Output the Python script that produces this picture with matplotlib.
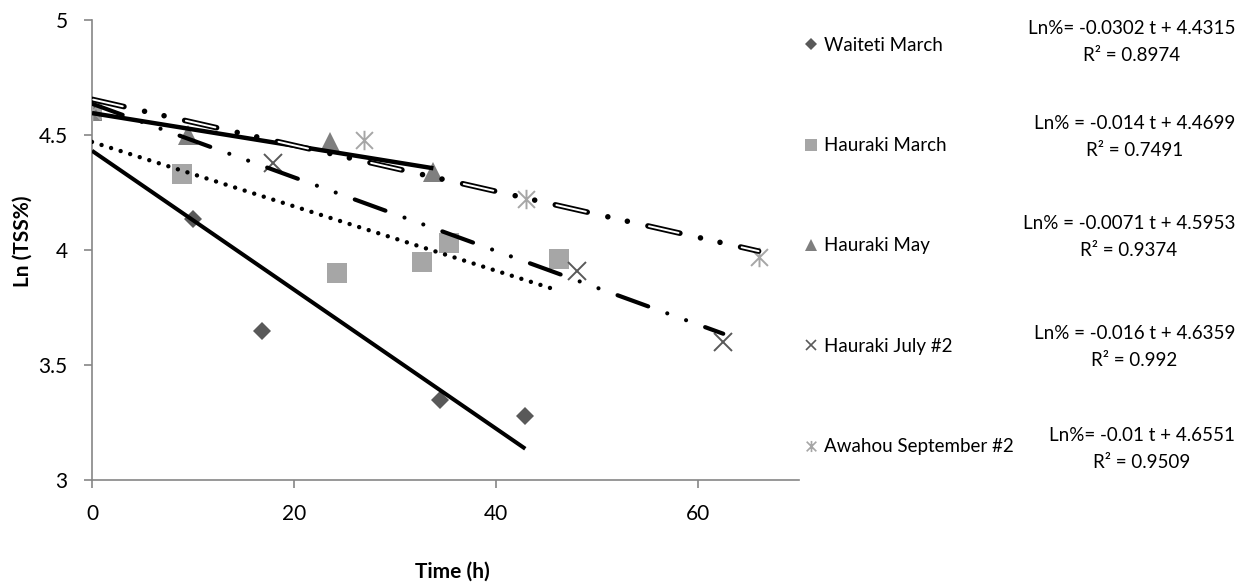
import matplotlib
matplotlib.use("Agg")
import matplotlib.pyplot as plt
import numpy as np
from matplotlib.lines import Line2D
from matplotlib.path import Path

plt.rcParams['font.family'] = ['Lato', 'DejaVu Sans']
plt.rcParams['lines.scale_dashes'] = False

# --- data ---
waiteti_t = [0, 10, 16.8, 34.5, 42.9]
waiteti_ln = [4.605, 4.135, 3.646, 3.35, 3.28]

hmarch_t = [0, 8.9, 24.3, 32.7, 35.3, 46.2]
hmarch_ln = [4.605, 4.33, 3.90, 3.95, 4.03, 3.96]

hmay_t = [0, 9.5, 23.6, 33.8]
hmay_ln = [4.605, 4.50, 4.47, 4.34]

hjuly_t = [0, 17.9, 48.0, 62.5]
hjuly_ln = [4.605, 4.38, 3.91, 3.60]

awahou_t = [0, 26.9, 43.0, 66.0]
awahou_ln = [4.605, 4.48, 4.22, 3.97]

labels = ["Waiteti March", "Hauraki March", "Hauraki May",
          "Hauraki July #2", "Awahou September #2"]
slopes = [-0.0302, -0.014, -0.0071, -0.016, -0.01]
intercepts = [4.4315, 4.4699, 4.5953, 4.6359, 4.6551]
equations = ["Ln%= -0.0302 t + 4.4315\nR² = 0.8974",
             "Ln% = -0.014 t + 4.4699\nR² = 0.7491",
             "Ln% = -0.0071 t + 4.5953\nR² = 0.9374",
             "Ln% = -0.016 t + 4.6359\nR² = 0.992",
             "Ln%= -0.01 t + 4.6551\nR² = 0.9509"]

# asterisk marker (x plus vertical bar)
asterisk = Path([(-1, -1), (1, 1), (-1, 1), (1, -1), (0, -1.15), (0, 1.15)],
                [Path.MOVETO, Path.LINETO, Path.MOVETO, Path.LINETO,
                 Path.MOVETO, Path.LINETO])

fig = plt.figure(figsize=(12.52, 5.88), dpi=100)
ax = fig.add_axes([92 / 1252, 1 - 480 / 588, (799 - 92) / 1252, (480 - 20) / 588])

# points
ax.plot(waiteti_t, waiteti_ln, ls='none', marker='D', ms=9.5, color='#595959', mew=0, zorder=3)
ax.plot(hmarch_t, hmarch_ln, ls='none', marker='s', ms=14, color='#A6A6A6', mew=0, zorder=3)
ax.plot(hmay_t, hmay_ln, ls='none', marker='^', ms=14, color='#7F7F7F', mew=0, zorder=3)
ax.plot(hjuly_t, hjuly_ln, ls='none', marker='x', ms=13, color='#595959', mew=1.4, zorder=3)
ax.plot(awahou_t, awahou_ln, ls='none', marker=asterisk, ms=14, color='#A6A6A6', mew=1.4, zorder=3)

# trendlines (linear fits as given in the chart)
def fit(ts, i):
    t = np.array([min(ts), max(ts)])
    return t, slopes[i] * t + intercepts[i]

t, y = fit(waiteti_t, 0)
ax.plot(t, y, color='black', lw=2.9, solid_capstyle='butt', zorder=4)

t, y = fit(hmarch_t, 1)
ax.plot(t, y, color='black', lw=3.2, ls=(0, (0.01, 7.2)), dash_capstyle='round', zorder=4)

t, y = fit(hmay_t, 2)
ax.plot(t, y, color='black', lw=3.2, solid_capstyle='butt', zorder=4)

t, y = fit(hjuly_t, 3)
ax.plot(t, y, color='black', lw=3.0, ls=(0, (23.5, 14.6, 0.01, 14.4, 0.01, 14.6)),
        dash_capstyle='round', zorder=4)

t, y = fit(awahou_t, 4)
ax.plot(t, y, color='black', lw=4.0, ls=(0, (23.6, 15.2, 0.01, 14.4, 0.01, 15.2)),
        dash_capstyle='round', zorder=4)
ax.plot(t, y, color='white', lw=1.4, ls=(67.5, (21.8, 46.6)),
        dash_capstyle='round', zorder=5)

# axes styling
ax.set_xlim(0, 70)
ax.set_ylim(3, 5)
ax.set_xticks([0, 20, 40, 60])
ax.set_yticks([3, 3.5, 4, 4.5, 5])
ax.set_yticklabels(['3', '3.5', '4', '4.5', '5'])
for s in ['top', 'right']:
    ax.spines[s].set_visible(False)
for s in ['left', 'bottom']:
    ax.spines[s].set_color('#868686')
    ax.spines[s].set_linewidth(1.2)
ax.tick_params(colors='#868686', labelcolor='black', labelsize=15, length=5.5, width=1.2, pad=12)
ax.set_xlabel('Time (h)', fontsize=15, fontweight='bold')
ax.set_ylabel('Ln (TSS%)', fontsize=15, fontweight='bold')
ax.xaxis.set_label_coords(0.51, -0.178)
ax.yaxis.set_label_coords(-0.084, 0.52)

# legend with markers only
handles = [
    Line2D([], [], ls='none', marker='D', ms=6, color='#595959', mew=0),
    Line2D([], [], ls='none', marker='s', ms=8.5, color='#A6A6A6', mew=0),
    Line2D([], [], ls='none', marker='^', ms=8.5, color='#7F7F7F', mew=0),
    Line2D([], [], ls='none', marker='x', ms=7, color='#595959', mew=1.2),
    Line2D([], [], ls='none', marker=asterisk, ms=8, color='#A6A6A6', mew=1.2),
]
fig.legend(handles, labels, loc='center left', bbox_to_anchor=(805 / 1252, 1 - 246 / 588),
           frameon=False, fontsize=13.5, handlelength=0.6, handletextpad=0.4,
           borderpad=0, borderaxespad=0, labelspacing=4.45)

eq_y = [42, 137, 237, 347, 449]
for yy, eq in zip(eq_y, equations):
    fig.text(1235 / 1252, 1 - yy / 588, eq, ha='right', va='center', ma='center',
             fontsize=13.5, linespacing=1.72)

plt.savefig('out.png', dpi=100)
